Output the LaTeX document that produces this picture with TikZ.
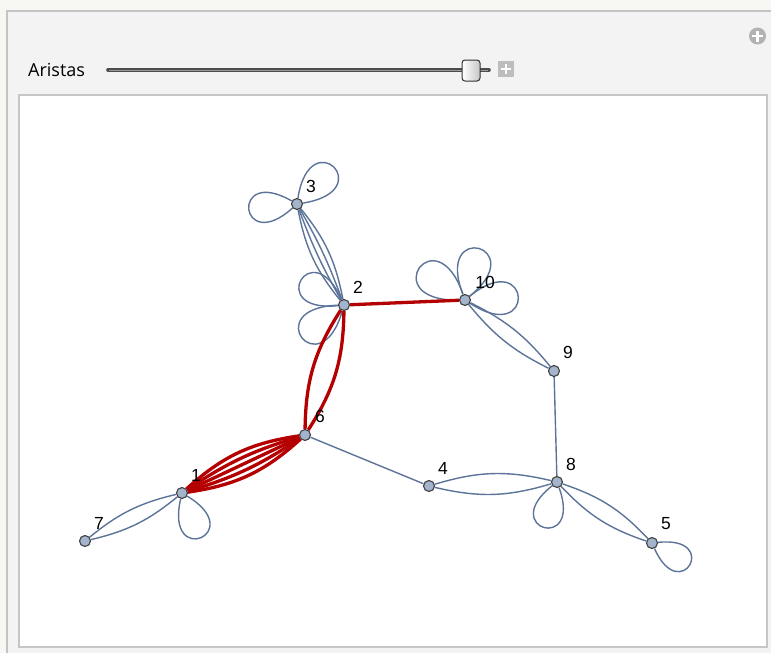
\documentclass[tikz,border=0pt]{standalone}
\usepackage{fontspec}
\setmainfont{Liberation Sans}
\newfontfamily\uifont{Open Sans}
\definecolor{outbg}{RGB}{247,247,243}
\definecolor{panel}{RGB}{243,243,243}
\definecolor{pborder}{RGB}{196,196,196}
\definecolor{iborder}{RGB}{198,198,198}
\definecolor{icong}{RGB}{178,178,178}
\definecolor{ecol}{RGB}{92,116,153}
\definecolor{vfill}{RGB}{163,180,204}
\definecolor{vdraw}{RGB}{64,64,64}
\definecolor{rcol}{RGB}{180,0,0}
\pgfdeclarelayer{bg}
\pgfdeclarelayer{edges}
\pgfsetlayers{bg,edges,main}
\newcommand\selfloop[3]{\draw[be] (#1) .. controls +(#2+36:#3) and +(#2-36:#3) .. (#1);}
\begin{document}
\begin{tikzpicture}[x=1pt,y=-1pt,
  vtx/.style={circle,fill=vfill,draw=vdraw,line width=1.1pt,inner sep=0pt,minimum size=11pt},
  be/.style={draw=ecol,line width=1.4pt},
  re/.style={draw=rcol,line width=3.3pt},
  lab/.style={font=\fontsize{17.5}{17.5}\selectfont,inner sep=0pt,anchor=center}]
\useasboundingbox (0,0) rectangle (771,653);
\clip (0,0) rectangle (771,653);
\begin{pgfonlayer}{bg}
\fill[outbg] (0,0) rectangle (771,653);
\filldraw[fill=panel,draw=pborder,line width=1.6pt] (7,11) rectangle (800,680);
\filldraw[fill=white,draw=iborder,line width=2.2pt] (19,95) rectangle (767,647);
% plus icon top right
\fill[icong] (757.5,36) circle (8.5);
\draw[white,line width=2.6pt] (752,36) -- (763,36) (757.5,30.5) -- (757.5,41.5);
% slider
\draw[line width=3.6pt,line cap=round,color=black!70] (108,70) -- (489,70);
\draw[line width=1.2pt,color=black!40] (109,70.6) -- (488,70.6);
\draw[rounded corners=3pt,draw=black!80,line width=1pt,left color=white,right color=black!22] (462,60) rectangle (480,81);
\fill[black!26] (498,61) rectangle (514,77);
\draw[white,line width=2.4pt] (501,69) -- (511,69) (506,64) -- (506,74);
\end{pgfonlayer}
\node[anchor=base west,inner sep=0pt,font=\uifont\fontsize{18}{18}\selectfont] (aristas) at (28,76) {Aristas};
% vertices
\node[vtx] (v3) at (297,204) {};
\node[vtx] (v2) at (344,305) {};
\node[vtx] (v10) at (465,300) {};
\node[vtx] (v9) at (554,371) {};
\node[vtx] (v6) at (305,435) {};
\node[vtx] (v4) at (429,486) {};
\node[vtx] (v8) at (557,482) {};
\node[vtx] (v1) at (182,493) {};
\node[vtx] (v7) at (85,541) {};
\node[vtx] (v5) at (652,543) {};
% labels
\node[lab] (t3) at ([shift={(14,-18)}]v3) {3};
\node[lab] (t2) at ([shift={(14,-18)}]v2) {2};
\node[lab] (t10) at ([shift={(20,-18)}]v10) {10};
\node[lab] (t9) at ([shift={(14,-19)}]v9) {9};
\node[lab] (t6) at ([shift={(15,-19)}]v6) {6};
\node[lab] (t4) at ([shift={(14,-18)}]v4) {4};
\node[lab] (t8) at ([shift={(14,-18)}]v8) {8};
\node[lab] (t1) at ([shift={(14,-18)}]v1) {1};
\node[lab] (t7) at ([shift={(14,-18)}]v7) {7};
\node[lab] (t5) at ([shift={(14,-19)}]v5) {5};
\begin{pgfonlayer}{edges}
% blue multi-edges
\draw[be] (v3) to[bend left=14] (v2);
\draw[be] (v3) to[bend left=4.7] (v2);
\draw[be] (v3) to[bend right=4.7] (v2);
\draw[be] (v3) to[bend right=14] (v2);
\draw[be] (v10) to[bend left=12] (v9);
\draw[be] (v10) to[bend right=12] (v9);
\draw[be] (v9) -- (v8);
\draw[be] (v6) -- (v4);
\draw[be] (v1) to[bend left=13] (v7);
\draw[be] (v1) to[bend right=13] (v7);
\draw[be] (v4) to[bend left=15] (v8);
\draw[be] (v4) to[bend right=15] (v8);
\draw[be] (v8) to[bend left=14] (v5);
\draw[be] (v8) to[bend right=14] (v5);
% loops
\selfloop{v3}{-45}{84}
\selfloop{v3}{174}{78}
\selfloop{v2}{210}{80}
\selfloop{v2}{142}{86}
\selfloop{v10}{215}{90}
\selfloop{v10}{-75}{86}
\selfloop{v10}{-3}{86}
\selfloop{v1}{67}{78}
\selfloop{v8}{106}{76}
\selfloop{v5}{30}{70}
% red edges
\draw[re] (v2) -- (v10);
\draw[re] (v2) to[bend left=16] (v6);
\draw[re] (v2) to[bend right=16] (v6);
\draw[re] (v1) to[bend left=17] (v6);
\draw[re] (v1) to[bend left=8.5] (v6);
\draw[re] (v1) -- (v6);
\draw[re] (v1) to[bend right=8.5] (v6);
\draw[re] (v1) to[bend right=17] (v6);
\end{pgfonlayer}
\end{tikzpicture}
\end{document}
